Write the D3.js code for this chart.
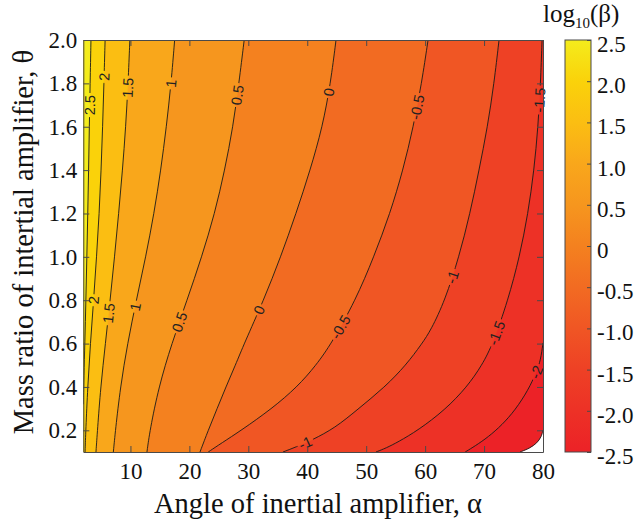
<!DOCTYPE html>
<html>
<head>
<meta charset="utf-8">
<script src="https://cdn.jsdelivr.net/npm/d3@7"></script>
<style>
  body { margin: 0; background: #fff; }
  svg { display: block; }
</style>
</head>
<body>
<div id="chart"></div>
<script>
// contour levels of log10(beta) and the colour used above each level
const levels = [-2.5, -2, -1.5, -1, -0.5, 0, 0.5, 1, 1.5, 2, 2.5];
const levelColors = ['#ec2227', '#ed3126', '#ee4125', '#f05624', '#f26b22', '#f4811f',
    '#f6961e', '#f9a71b', '#fbbe12', '#fad20a', '#f4ec1c'];

// contour lines, [theta, alpha], top to bottom
const lineM25 = [[0.201, 80.0], [0.169, 79.7], [0.142, 79.0], [0.118, 77.8], [0.1, 76.1]];
const lineM20 = [[0.603, 80.0], [0.524, 79.6], [0.469, 78.9], [0.386, 77.5], [0.294, 75.3],
    [0.225, 73.05], [0.169, 70.7], [0.128, 68.5], [0.1, 66.8]];
const lineM15 = [[2.0, 79.84], [1.8, 79.58], [1.6, 79.16], [1.4, 78.48], [1.2, 77.46], [1.0, 76.02],
    [0.8, 74.06], [0.6, 71.52], [0.5, 69.65], [0.4, 67.1], [0.294, 63.37], [0.2, 58.79],
    [0.146, 55.4], [0.118, 53.36], [0.1, 51.66]];
const lineM10 = [[2.0, 72.54], [1.8, 71.69], [1.6, 70.59], [1.4, 69.15], [1.2, 67.62], [1.0, 65.75],
    [0.8, 63.38], [0.663, 61.0], [0.6, 59.47], [0.501, 56.76], [0.4, 53.19], [0.294, 48.44],
    [0.211, 44.71], [0.155, 40.81], [0.123, 38.09], [0.1, 35.88]];
const lineM05 = [[2.0, 60.5], [1.8, 59.4], [1.6, 58.0], [1.4, 56.25], [1.2, 54.05], [1.0, 51.3],
    [0.8, 48.2], [0.6, 44.1], [0.5, 41.5], [0.4, 38.3], [0.3, 34.0], [0.2, 28.8],
    [0.14, 25.4], [0.1, 23.2]];
const line00 = [[2.0, 44.88], [1.8, 43.95], [1.6, 42.59], [1.4, 40.5], [1.2, 38.1], [1.0, 35.5],
    [0.8, 32.6], [0.6, 29.3], [0.5, 27.8], [0.4, 26.2], [0.3, 24.7], [0.2, 23.2], [0.1, 21.8]];
const lineP05 = [[2.0, 29.3], [1.8, 28.4], [1.6, 27.4], [1.4, 26.0], [1.2, 24.3], [1.0, 22.1],
    [0.8, 19.6], [0.6, 17.0], [0.4, 14.8], [0.2, 13.3], [0.1, 12.8]];
const lineP10 = [[2.0, 17.5], [1.8, 16.9], [1.6, 16.1], [1.4, 15.15], [1.2, 14.0], [1.0, 12.6],
    [0.8, 11.0], [0.6, 9.5], [0.4, 8.3], [0.2, 7.45], [0.1, 7.1]];
const lineP15 = [[2.0, 9.9], [1.8, 9.6], [1.6, 9.2], [1.4, 8.65], [1.2, 8.0], [1.0, 7.3],
    [0.8, 6.55], [0.6, 5.75], [0.4, 4.95], [0.2, 4.4], [0.1, 4.15]];
const lineP20 = [[2.0, 5.7], [1.8, 5.5], [1.6, 5.28], [1.4, 5.02], [1.2, 4.7], [1.0, 4.25],
    [0.8, 3.75], [0.6, 3.2], [0.4, 2.75], [0.2, 2.42], [0.1, 2.3]];
const lineP25 = [[2.0, 3.3], [1.8, 3.16], [1.6, 3.02], [1.4, 2.9], [1.2, 2.76], [1.0, 2.6],
    [0.8, 2.44], [0.6, 2.26], [0.45, 2.1], [0.32, 2.0]];

// inline labels: [level, theta]
const labelSpots = [[2.5, 1.70], [2, 1.83], [2, 0.80], [1.5, 1.78], [1.5, 0.74], [1, 1.80],
    [1, 0.77], [0.5, 1.746], [0.5, 0.70], [0, 1.76], [0, 0.755], [-0.5, 1.69], [-0.5, 0.676],
    [-1, 0.907], [-1, 0.142], [-1.5, 1.723], [-1.5, 0.649], [-2, 0.469]];

const xTicks = [10, 20, 30, 40, 50, 60, 70, 80];
const yTicks = [0.2, 0.4, 0.6, 0.8, 1.0, 1.2, 1.4, 1.6, 1.8, 2.0];
const cbTicks = [2.5, 2, 1.5, 1, 0.5, 0, -0.5, -1, -1.5, -2, -2.5];
const cbTickLabels = ['2.5', '2.0', '1.5', '1.0', '0.5', '0', '-0.5', '-1.0', '-1.5', '-2.0', '-2.5'];

const contourLines = [lineM25, lineM20, lineM15, lineM10, lineM05, line00, lineP05, lineP10, lineP15, lineP20, lineP25];

const width = 635, height = 522;
const plot = {left: 83.3, right: 543, top: 40, bottom: 452};
const axisColor = '#4a4a4a';
const serif = '"Liberation Serif", "Times New Roman", serif';

const x = d3.scaleLinear().domain([2, 80]).range([plot.left, plot.right]);
const y = d3.scaleLinear().domain([0.1, 2.0]).range([plot.bottom, plot.top]);
const color = d3.scaleLinear().domain(levels).range(levelColors);

const svg = d3.select('#chart').append('svg')
    .attr('width', width)
    .attr('height', height);

const defs = svg.append('defs');
defs.append('clipPath').attr('id', 'plot-clip')
    .append('rect')
    .attr('x', plot.left).attr('y', plot.top)
    .attr('width', plot.right - plot.left).attr('height', plot.bottom - plot.top);

const lineGen = d3.line()
    .x(d => x(d[1]))
    .y(d => y(d[0]))
    .curve(d3.curveBasis);

// filled bands: paint region above each level, lowest first
const fills = svg.append('g').attr('clip-path', 'url(#plot-clip)');
fills.append('rect')
    .attr('x', plot.left).attr('y', plot.top)
    .attr('width', plot.right - plot.left).attr('height', plot.bottom - plot.top)
    .attr('fill', '#fff');

levels.forEach((lev, i) => {
    const pts = contourLines[i];
    const corners = [[0.1, 2], [2.0, 2]];
    if (pts[0][0] < 2.0) corners.push([2.0, 80]);
    const d = lineGen(pts) + corners.map(c => 'L' + x(c[1]) + ',' + y(c[0])).join('') + 'Z';
    fills.append('path')
        .attr('d', d)
        .attr('fill', color(lev))
        .attr('stroke', color(lev))
        .attr('stroke-width', 0.4);
});

// contour lines, with gaps where labels sit
const mask = defs.append('mask').attr('id', 'label-gaps')
    .attr('maskUnits', 'userSpaceOnUse')
    .attr('x', 0).attr('y', 0).attr('width', width).attr('height', height);
mask.append('rect').attr('width', width).attr('height', height).attr('fill', '#fff');

const linesG = svg.append('g').attr('clip-path', 'url(#plot-clip)')
    .append('g').attr('mask', 'url(#label-gaps)');
const pathByLevel = {};
levels.forEach((lev, i) => {
    pathByLevel[lev] = linesG.append('path')
        .attr('d', lineGen(contourLines[i]))
        .attr('fill', 'none')
        .attr('stroke', '#1a1a1a')
        .attr('stroke-width', 0.9)
        .node();
});

const labelsG = svg.append('g');
labelSpots.forEach(([lev, th]) => {
    const node = pathByLevel[lev];
    const total = node.getTotalLength();
    const ty = y(th);
    let lo = 0, hi = total;
    for (let k = 0; k < 40; k++) {
        const mid = (lo + hi) / 2;
        if (node.getPointAtLength(mid).y < ty) lo = mid; else hi = mid;
    }
    const l = (lo + hi) / 2;
    const p = node.getPointAtLength(l);
    const p1 = node.getPointAtLength(Math.max(0, l - 5));
    const p2 = node.getPointAtLength(Math.min(total, l + 5));
    let ang = Math.atan2(p2.y - p1.y, p2.x - p1.x) * 180 / Math.PI;
    if (ang > 90) ang -= 180;
    if (ang <= -90) ang += 180;

    const t = labelsG.append('text')
        .attr('transform', `translate(${p.x},${p.y}) rotate(${ang})`)
        .attr('text-anchor', 'middle')
        .attr('dy', '0.36em')
        .style('font-family', '"Liberation Sans", Arial, sans-serif')
        .style('font-size', '14.5px')
        .attr('fill', '#222')
        .text(String(lev));
    const w = t.node().getComputedTextLength();
    mask.append('rect')
        .attr('x', -w / 2 - 2).attr('y', -4)
        .attr('width', w + 4).attr('height', 8)
        .attr('transform', `translate(${p.x},${p.y}) rotate(${ang})`)
        .attr('fill', '#000');
});

// axes (box with inward ticks)
const styleAxis = g => {
    g.attr('font-family', null).attr('font-size', null);
    g.select('.domain').attr('stroke', axisColor);
    g.selectAll('.tick line').attr('stroke', axisColor);
    g.selectAll('.tick text')
        .attr('fill', '#111')
        .style('font-family', serif)
        .style('font-size', '23px');
};

svg.append('g')
    .attr('transform', `translate(0,${plot.bottom})`)
    .call(d3.axisBottom(x).tickValues(xTicks).tickSize(-6).tickSizeOuter(0).tickPadding(11))
    .call(styleAxis);
svg.append('g')
    .attr('transform', `translate(0,${plot.top})`)
    .call(d3.axisTop(x).tickValues(xTicks).tickSize(-6).tickSizeOuter(0).tickFormat(''))
    .call(styleAxis);
svg.append('g')
    .attr('transform', `translate(${plot.left},0)`)
    .call(d3.axisLeft(y).tickValues(yTicks).tickSize(-6).tickSizeOuter(0).tickPadding(6)
        .tickFormat(d3.format('.1f')))
    .call(styleAxis);
svg.append('g')
    .attr('transform', `translate(${plot.right},0)`)
    .call(d3.axisRight(y).tickValues(yTicks).tickSize(-6).tickSizeOuter(0).tickFormat(''))
    .call(styleAxis);

// axis titles
svg.append('text')
    .attr('x', 318).attr('y', 513)
    .attr('text-anchor', 'middle')
    .style('font-family', serif)
    .style('font-size', '28.5px')
    .attr('fill', '#111')
    .text('Angle of inertial amplifier, α');

svg.append('text')
    .attr('transform', `translate(33,${(plot.top + plot.bottom) / 2 - 4}) rotate(-90)`)
    .attr('text-anchor', 'middle')
    .style('font-family', serif)
    .style('font-size', '28.5px')
    .attr('fill', '#111')
    .text('Mass ratio of intertial amplifier, θ');

// colour bar
const cb = {left: 565, right: 591};
const cy = d3.scaleLinear().domain([-2.5, 2.5]).range([plot.bottom, plot.top]);
const grad = defs.append('linearGradient').attr('id', 'cb-grad')
    .attr('x1', 0).attr('y1', 1).attr('x2', 0).attr('y2', 0);
levels.forEach(lev => {
    grad.append('stop')
        .attr('offset', (lev + 2.5) / 5)
        .attr('stop-color', color(lev));
});
svg.append('rect')
    .attr('x', cb.left).attr('y', plot.top)
    .attr('width', cb.right - cb.left).attr('height', plot.bottom - plot.top)
    .attr('fill', 'url(#cb-grad)')
    .attr('stroke', axisColor)
    .attr('stroke-width', 1);

const cbAxis = svg.append('g')
    .attr('transform', `translate(${cb.right},0)`)
    .call(d3.axisRight(cy).tickValues(cbTicks).tickSize(-4).tickSizeOuter(0).tickPadding(6)
        .tickFormat((d, i) => cbTickLabels[i]))
    .call(styleAxis);
cbAxis.select('.domain').remove();
cbAxis.selectAll('.tick text').attr('dy', '0.5em');

const cbTitle = svg.append('text')
    .attr('x', 543).attr('y', 22)
    .attr('fill', '#111')
    .style('font-family', serif)
    .style('font-size', '25px');
cbTitle.append('tspan').text('log');
cbTitle.append('tspan').attr('dy', 6).style('font-size', '15px').text('10');
cbTitle.append('tspan').attr('dy', -6).text('(β)');
</script>
</body>
</html>
